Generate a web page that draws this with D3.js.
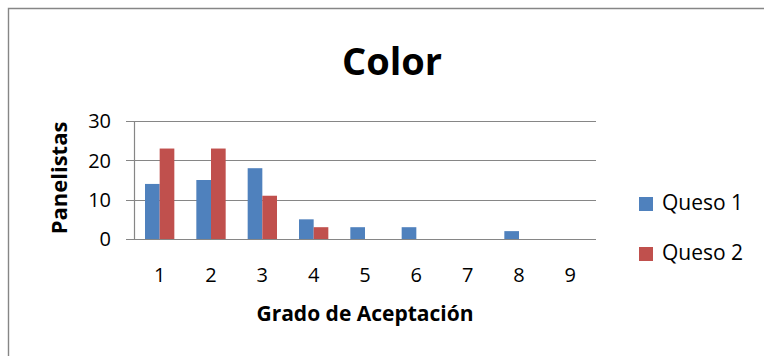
<!DOCTYPE html>
<html>
<head>
<meta charset="utf-8">
<script src="https://cdn.jsdelivr.net/npm/d3@7"></script>
<style>
  html, body { margin: 0; padding: 0; background: #fff; }
  svg { display: block; font-family: "Open Sans", "Noto Sans", sans-serif; }
</style>
</head>
<body>
<svg id="chart" width="764" height="356"></svg>
<script>
// Chart data
const categories = ["1", "2", "3", "4", "5", "6", "7", "8", "9"];
const seriesNames = ["Queso 1", "Queso 2"];
const queso1 = [14, 15, 18, 5, 3, 3, 0, 2, 0];
const queso2 = [23, 23, 11, 3, 0, 0, 0, 0, 0];
const yTicks = [0, 10, 20, 30];
const colors = ["#4F81BD", "#C0504D"];

const svg = d3.select("#chart");

// Outer chart frame (continues past the right and bottom edges)
svg.append("path")
  .attr("d", "M8.5,800 L8.5,8.5 L900,8.5")
  .attr("fill", "none")
  .attr("stroke", "#868686")
  .attr("stroke-width", 1.4);

const plot = { left: 134, right: 596, top: 121, bottom: 239 };

const x = d3.scaleBand().domain(categories).range([plot.left, plot.right]).padding(0);
const xs = d3.scaleBand().domain(seriesNames).range([0, x.bandwidth()])
  .paddingInner(0).paddingOuter(0.75);
const y = d3.scaleLinear().domain([0, 30]).range([plot.bottom, plot.top]);

// Horizontal gridlines with tick stubs on the left
svg.append("g")
  .selectAll("line")
  .data(yTicks)
  .join("line")
  .attr("x1", plot.left - 8)
  .attr("x2", plot.right)
  .attr("y1", d => Math.round(y(d)) + 0.5)
  .attr("y2", d => Math.round(y(d)) + 0.5)
  .attr("stroke", "#868686")
  .attr("stroke-width", 1.2);

// Vertical value axis line
svg.append("line")
  .attr("x1", plot.left + 0.5).attr("x2", plot.left + 0.5)
  .attr("y1", y(30)).attr("y2", y(0))
  .attr("stroke", "#868686")
  .attr("stroke-width", 1.2);

// Bars
const series = [queso1, queso2];
const groups = svg.append("g");
series.forEach((vals, si) => {
  groups.append("g")
    .selectAll("rect")
    .data(vals.map((v, i) => ({ cat: categories[i], v })))
    .join("rect")
    .filter(d => d.v > 0)
    .attr("x", d => x(d.cat) + xs(seriesNames[si]))
    .attr("width", xs.bandwidth())
    .attr("y", d => y(d.v))
    .attr("height", d => y(0) - y(d.v))
    .attr("fill", colors[si]);
});

// Value axis tick labels
svg.append("g")
  .selectAll("text")
  .data(yTicks)
  .join("text")
  .attr("x", 111)
  .attr("y", d => y(d))
  .attr("dy", "0.36em")
  .attr("text-anchor", "end")
  .attr("font-size", 20)
  .attr("fill", "#000")
  .text(d => d);

// Category axis tick labels
svg.append("g")
  .selectAll("text")
  .data(categories)
  .join("text")
  .attr("x", d => x(d) + x.bandwidth() / 2)
  .attr("y", 282)
  .attr("text-anchor", "middle")
  .attr("font-size", 20)
  .attr("fill", "#000")
  .text(d => d);

// Chart title
svg.append("text")
  .attr("x", 392)
  .attr("y", 75)
  .attr("text-anchor", "middle")
  .attr("font-size", 38)
  .attr("font-weight", "bold")
  .text("Color");

// Axis titles
svg.append("text")
  .attr("x", (plot.left + plot.right) / 2)
  .attr("y", 321)
  .attr("text-anchor", "middle")
  .attr("font-size", 21)
  .attr("font-weight", "bold")
  .text("Grado de Aceptación");

svg.append("text")
  .attr("transform", "translate(67,178) rotate(-90)")
  .attr("text-anchor", "middle")
  .attr("font-size", 22)
  .attr("font-weight", "bold")
  .text("Panelistas");

// Legend
const legend = svg.append("g")
  .selectAll("g")
  .data(seriesNames)
  .join("g")
  .attr("transform", (d, i) => `translate(639,${197 + i * 50})`);

legend.append("rect")
  .attr("width", 14).attr("height", 14)
  .attr("fill", (d, i) => colors[i]);

legend.append("text")
  .attr("x", 23)
  .attr("y", 13)
  .attr("font-size", 21)
  .attr("fill", "#000")
  .text(d => d);
</script>
</body>
</html>
